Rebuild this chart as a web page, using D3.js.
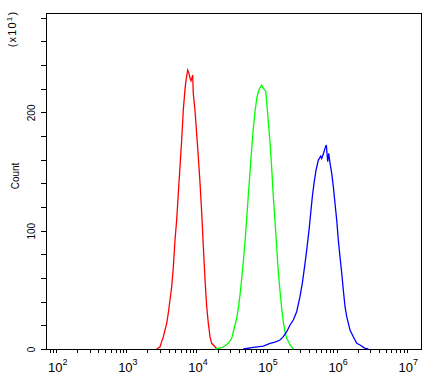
<!DOCTYPE html>
<html>
<head>
<meta charset="utf-8">
<script src="https://cdn.jsdelivr.net/npm/d3@7"></script>
<style>
  body { margin: 0; background: #fff; }
  text { font-family: Arial, "Liberation Sans", sans-serif; fill: #000; }
</style>
</head>
<body>
<script>
// histogram values (counts in units of x10^1)
var redX = [2710, 3020, 3190, 3370, 3560, 3760, 3960, 4190, 4430, 4680, 4940, 5220, 5510, 5820, 6150, 6490, 6850, 7090, 7500, 7830, 8090, 8360, 8830, 9010, 9520, 10070, 10620, 11250, 11890, 12530, 13250, 14000, 14760, 15610, 16480, 18410, 19450];
var redCount = [0, 1.9, 6.2, 10.4, 16.1, 21.7, 30.2, 41.4, 52.6, 69.5, 92.1, 109, 131.6, 154, 176.6, 202, 219, 227, 235.7, 233, 228.7, 226.7, 231.5, 216, 202, 182, 162.5, 140, 114.7, 86.4, 58.3, 35.7, 21.7, 10.4, 4.8, 1.9, 0];

var greenX = [18400, 22900, 25550, 28460, 31840, 33560, 35480, 37500, 39540, 41800, 44240, 46560, 49300, 52120, 54950, 58070, 61380, 64730, 68440, 72440, 76210, 80700, 85310, 89950, 97280, 100500, 105900, 112000, 118500, 124800, 132100, 139600, 147200, 155600, 164500, 173400, 183300, 194100, 216300, 241000];
var greenCount = [0, 1.1, 2.8, 4.8, 9, 14.6, 20.3, 25.9, 34.4, 45.6, 59.7, 73.8, 90.7, 110.4, 130, 149.8, 169.6, 186.5, 200.5, 211.8, 217.4, 220.8, 223, 220.3, 218, 209, 192, 175, 152.7, 129, 107.6, 86, 65, 49, 34.4, 23, 14.6, 9, 3.4, 0];

var blueX = [46560, 64730, 89950, 112000, 132100, 155600, 173400, 194100, 216300, 241000, 269200, 300000, 323600, 354000, 374200, 403600, 426600, 449800, 475300, 508200, 548000, 593000, 612400, 645700, 682300, 712800, 746400, 771000, 805400, 851100, 897500, 948500, 1002000, 1057000, 1117000, 1183000, 1245000, 1318000, 1393000, 1552000, 1729000, 1936000, 2158000, 2543000, 2831000];
var blueCount = [0, 1.4, 2.5, 4.8, 5.9, 7.6, 10.4, 14.6, 20.3, 24.5, 31.5, 44.2, 55.5, 72.4, 83.7, 100.5, 114.7, 128.7, 140, 151.2, 159.7, 163, 161, 164.8, 169.6, 172.4, 158.3, 165.4, 157, 148.5, 137, 123, 109, 92, 78, 64, 49.9, 35.7, 27.3, 16, 10.4, 4.8, 3.4, 0.6, 0];

var xDecades = [2, 3, 4, 5, 6, 7];
var yLabels = [0, 100, 200];
var yMinorTicks = [0, 20, 40, 60, 80, 100, 120, 140, 160, 180, 200, 220, 240, 260, 280];

var width = 436, height = 380;

var svg = d3.select('body').append('svg')
  .attr('width', width)
  .attr('height', height);

var xScale = d3.scaleLog().domain([71.3, 16520000]).range([46, 422]);
var yScale = d3.scaleLinear().domain([0, 284]).range([349, 13]);

// x ticks: 2..9 x 10^k inside the domain
var xTicks = [];
[1, 2, 3, 4, 5, 6, 7].forEach(function(k) {
  for (var m = 1; m < 10; m++) {
    var v = m * Math.pow(10, k);
    if (v >= xScale.domain()[0] && v <= xScale.domain()[1]) xTicks.push(v);
  }
});

// frame
svg.append('rect')
  .attr('x', 46.5).attr('y', 13.5)
  .attr('width', 375).attr('height', 336)
  .attr('fill', 'none').attr('stroke', '#000')
  .attr('shape-rendering', 'crispEdges');

// x axis
var gx = svg.append('g')
  .attr('transform', 'translate(0,349)')
  .call(d3.axisBottom(xScale).tickValues(xTicks).tickSize(4).tickSizeOuter(0).tickFormat(''));
gx.select('.domain').remove();
gx.selectAll('line').attr('shape-rendering', 'crispEdges');

// y axis
var gy = svg.append('g')
  .attr('transform', 'translate(46,0)')
  .call(d3.axisLeft(yScale).tickValues(yMinorTicks).tickSize(5).tickSizeOuter(0).tickFormat(''));
gy.select('.domain').remove();
gy.selectAll('line').attr('shape-rendering', 'crispEdges');

// x tick labels 10^k
xDecades.forEach(function(k) {
  var t = svg.append('text')
    .attr('x', xScale(Math.pow(10, k)) + 1.5)
    .attr('y', 372)
    .attr('text-anchor', 'middle')
    .attr('font-size', 13);
  t.append('tspan').text('10');
  t.append('tspan').attr('dy', -7).attr('font-size', 9).text(k);
});

// y tick labels, rotated
yLabels.forEach(function(v) {
  svg.append('text')
    .attr('transform', 'translate(34.5,' + (yScale(v) + 0.5) + ') rotate(-90)')
    .attr('text-anchor', 'middle')
    .attr('font-size', 10)
    .text(v);
});

// axis title
svg.append('text')
  .attr('transform', 'translate(18.5,176) rotate(-90)')
  .attr('text-anchor', 'middle')
  .attr('font-size', 10)
  .text('Count');

var mult = svg.append('text')
  .attr('transform', 'translate(16,29) rotate(-90)')
  .attr('text-anchor', 'middle')
  .attr('font-size', 11)
  .attr('letter-spacing', 1.2);
mult.append('tspan').text('(x10');
mult.append('tspan').attr('dy', -4).attr('font-size', 8).text('1');
mult.append('tspan').attr('dy', 4).text(')');

// histogram lines
var line = d3.line()
  .x(function(d) { return xScale(d[0]); })
  .y(function(d) { return yScale(d[1]); });

var series = [
  { xs: redX, ys: redCount, color: '#ff0000' },
  { xs: greenX, ys: greenCount, color: '#00ff00' },
  { xs: blueX, ys: blueCount, color: '#0000ff' }
];

series.forEach(function(s) {
  svg.append('path')
    .datum(d3.zip(s.xs, s.ys))
    .attr('d', line)
    .attr('fill', 'none')
    .attr('stroke', s.color)
    .attr('stroke-width', 1.3);
});
</script>
</body>
</html>
